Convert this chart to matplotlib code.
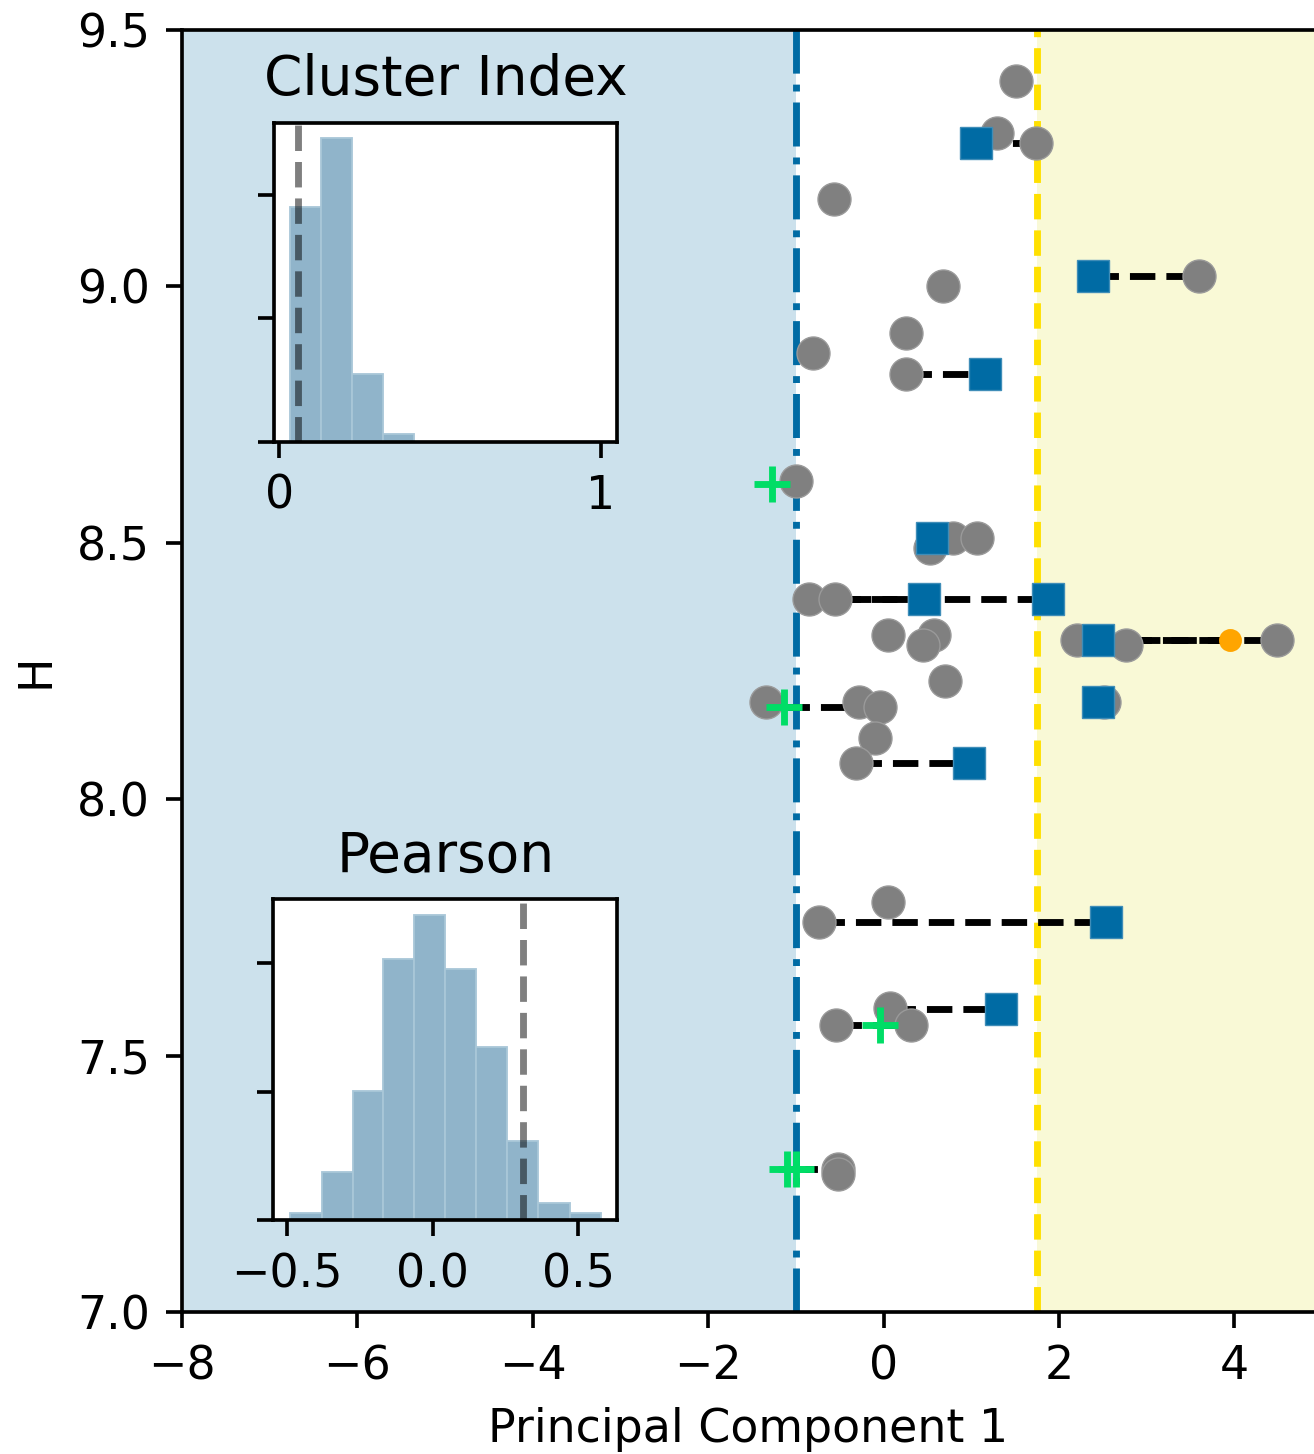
import matplotlib
matplotlib.use("Agg")
import matplotlib.pyplot as plt
import numpy as np

# --- data ---
# gray points
pts_x = [1.51, 1.29, 1.74, -0.57, 0.68, 3.60, 0.25, -0.80, 0.26, -1.00,
         0.53, 0.79, 1.07, -0.85, -0.55, 0.055, 0.58, 0.45, 0.70, 2.21,
         2.76, 4.49, -1.34, -0.28, -0.04, -0.10, 2.51, -0.32, -0.74, 0.055,
         0.075, -0.54, 0.31, -0.52, -0.52]
pts_y = [9.40, 9.30, 9.28, 9.17, 9.00, 9.02, 8.91, 8.87, 8.83, 8.62,
         8.49, 8.51, 8.51, 8.39, 8.39, 8.32, 8.32, 8.30, 8.23, 8.31,
         8.30, 8.31, 8.19, 8.19, 8.18, 8.12, 8.19, 8.07, 7.76, 7.80,
         7.593, 7.56, 7.56, 7.279, 7.270]

# blue squares
sq_x = [1.05, 2.39, 1.16, 0.55, 0.46, 1.87, 2.45, 2.45, 0.97, 2.54, 1.34]
sq_y = [9.28, 9.02, 8.83, 8.51, 8.39, 8.39, 8.31, 8.19, 8.07, 7.76, 7.59]

# green crosses
plus_x = [-1.27, -1.13, -0.04, -1.10, -1.00]
plus_y = [8.615, 8.18, 7.56, 7.278, 7.278]

# orange dot
dot_x = [3.95]
dot_y = [8.31]

# dashed links (start x, end x, y)
link_x0 = [1.05, 2.39, 0.26, -0.85, -0.55, 2.45, 2.76, -1.13, -0.32, -0.74, 0.075, -0.54, -1.05]
link_x1 = [1.74, 3.60, 1.16, 0.46, 1.87, 4.49, 3.95, -0.04, 0.97, 2.54, 1.34, 0.31, -0.52]
link_y = [9.28, 9.02, 8.83, 8.39, 8.39, 8.31, 8.31, 8.18, 8.07, 7.76, 7.59, 7.56, 7.278]

# thresholds
left_cut = -1.0
right_cut = 1.75

# inset histograms
ci_edges = [0.033, 0.130, 0.226, 0.323, 0.419]
ci_heights = [3.80, 4.93, 1.09, 0.12]
ci_mark = 0.059

pr_edges = [-0.488, -0.381, -0.275, -0.169, -0.063, 0.044, 0.150, 0.257, 0.363, 0.470, 0.577]
pr_heights = [0.057, 0.376, 1.007, 2.037, 2.380, 1.959, 1.351, 0.616, 0.135, 0.057]
pr_mark = 0.309

BLUE = "#006BA4"
W, H = 1314, 1454
DPI = 330

fig = plt.figure(figsize=(W / DPI, H / DPI), dpi=DPI)


def frac(x0, y0, x1, y1):
    # pixel box -> figure fraction [left, bottom, width, height]
    return [x0 / W, 1 - y1 / H, (x1 - x0) / W, (y1 - y0) / H]


ax = fig.add_axes(frac(182, 30, W, 1312))
x_right = -8 + (W - 182) / 87.7

ax.axvspan(-8, left_cut, color=BLUE, alpha=0.2, lw=0)
ax.axvspan(right_cut, 10, color="#F9F9D6", lw=0)
ax.axvline(left_cut, color=BLUE, ls="-.", lw=1.5)
ax.axvline(right_cut, color="#FFE000", ls="--", lw=1.5)

for x0, x1, y in zip(link_x0, link_x1, link_y):
    ax.plot([x0, x1], [y, y], "k--", lw=1.5, zorder=3)

ax.plot(pts_x, pts_y, "o", color="gray", ms=7.2, mec="#9a9a9a", mew=0.3, ls="none", zorder=4)
ax.plot(plus_x, plus_y, "+", color="#00DD66", ms=8, mew=1.5, ls="none", zorder=5)
ax.plot(dot_x, dot_y, "o", color="orange", ms=4, ls="none", zorder=5)
ax.plot(sq_x, sq_y, "s", color=BLUE, ms=7, mec="#3f8db8", mew=0.3, ls="none", zorder=6)

ax.set_xlim(-8, x_right)
ax.set_ylim(7.0, 9.5)
ax.set_xticks([-8, -6, -4, -2, 0, 2, 4])
ax.set_yticks([7.0, 7.5, 8.0, 8.5, 9.0, 9.5])
ax.spines["right"].set_visible(False)
ax.set_xlabel("Principal Component 1")
ax.set_ylabel("H")

# --- inset: Cluster Index ---
ax1 = fig.add_axes(frac(274.3, 122.7, 616.7, 441.7))
ax1.hist(ci_edges[:-1], bins=ci_edges, weights=ci_heights,
         color="#90B4CA", edgecolor="#A9C7D8", lw=0.4)
ax1.axvline(ci_mark, color="k", alpha=0.5, ls="--", lw=1.5)
ax1.set_xlim(-0.016, 1.05)
ax1.set_ylim(0, 5.17)
ax1.set_xticks([0, 1])
ax1.set_yticks([0, 2, 4])
ax1.tick_params(labelleft=False)
ax1.set_title("Cluster Index", fontsize=12)

# --- inset: Pearson ---
ax2 = fig.add_axes(frac(273.3, 899.3, 617.3, 1220))
ax2.hist(pr_edges[:-1], bins=pr_edges, weights=pr_heights,
         color="#90B4CA", edgecolor="#A9C7D8", lw=0.4)
ax2.axvline(pr_mark, color="k", alpha=0.5, ls="--", lw=1.5)
ax2.set_xlim(-0.547, 0.634)
ax2.set_ylim(0, 2.50)
ax2.set_xticks([-0.5, 0.0, 0.5])
ax2.set_yticks([0, 1, 2])
ax2.tick_params(labelleft=False)
ax2.set_title("Pearson", fontsize=12)

fig.savefig("out.png", dpi=DPI)
